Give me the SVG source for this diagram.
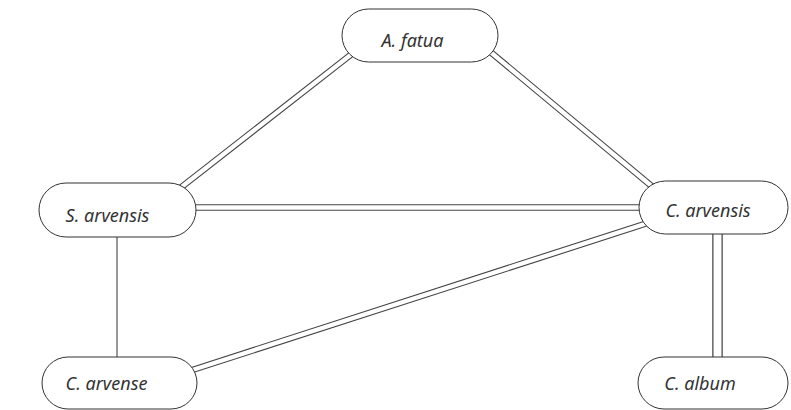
<svg xmlns="http://www.w3.org/2000/svg" width="791" height="410" viewBox="0 0 791 410">
<style>
.bg{fill:#ffffff}
.node{fill:#ffffff;stroke:#333333;stroke-width:1}
.lbl{font-family:"Noto Sans","DejaVu Sans",sans-serif;font-style:italic;font-weight:normal;font-size:18px;fill:#333333;text-anchor:middle}
.dout{stroke:#444444;stroke-width:6.5;fill:none}
.din{stroke:#ffffff;stroke-width:4.3;fill:none}
.single{stroke:#333333;stroke-width:1;fill:none}
</style>
<rect class="bg" x="0" y="0" width="791" height="410"/>
<g id="connectors">
  <line class="single" x1="117" y1="230" x2="117" y2="365"/>
  <g id="e1"><line class="dout" x1="170" y1="196" x2="362" y2="46"/><line class="din" x1="170" y1="196" x2="362" y2="46"/></g>
  <g id="e2"><line class="dout" x1="482" y1="45" x2="660" y2="193"/><line class="din" x1="482" y1="45" x2="660" y2="193"/></g>
  <g id="e3"><line class="dout" x1="190" y1="207.5" x2="650" y2="207.5"/><line class="din" x1="190" y1="207.5" x2="650" y2="207.5"/></g>
  <g id="e4"><line class="dout" x1="180" y1="374" x2="660" y2="219"/><line class="din" x1="180" y1="374" x2="660" y2="219"/></g>
  <g id="e5"><line class="dout" x1="717.5" y1="225" x2="717.5" y2="365" style="stroke-width:10.5"/><line class="din" x1="717.5" y1="225" x2="717.5" y2="365" style="stroke-width:8"/></g>
</g>
<g id="n-afatua">
  <rect class="node" x="342" y="9" width="156" height="53" rx="26.5" ry="26.5"/>
  <text class="lbl" x="412.5" y="47">A. fatua</text>
</g>
<g id="n-sarvensis">
  <rect class="node" x="39" y="183" width="157" height="54" rx="27" ry="27"/>
  <text class="lbl" x="107.5" y="222">S. arvensis</text>
</g>
<g id="n-carvensis">
  <rect class="node" x="639" y="181" width="149" height="53" rx="26.5" ry="26.5"/>
  <text class="lbl" x="708" y="217">C. arvensis</text>
</g>
<g id="n-carvense">
  <rect class="node" x="42" y="357" width="155" height="52" rx="26" ry="26"/>
  <text class="lbl" x="106.5" y="390">C. arvense</text>
</g>
<g id="n-calbum">
  <rect class="node" x="638" y="357" width="150" height="52" rx="26" ry="26"/>
  <text class="lbl" x="700" y="390">C. album</text>
</g>
</svg>
